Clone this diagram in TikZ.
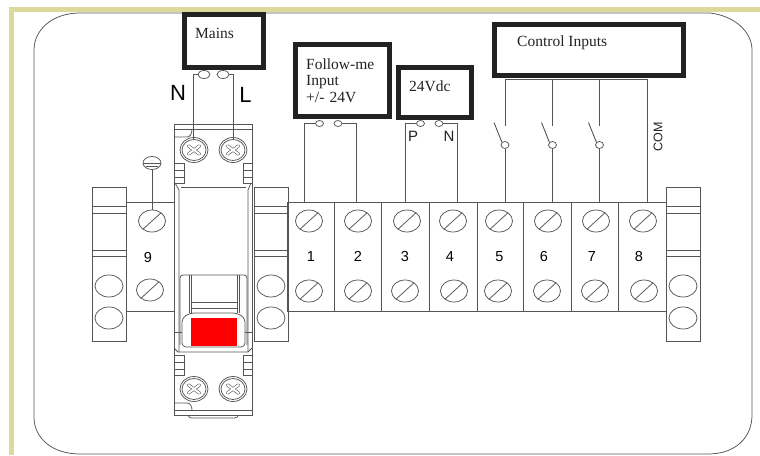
\documentclass[tikz,border=0pt]{standalone}
\usepackage{fontspec}
\setmainfont{Liberation Serif}
\setsansfont{Liberation Sans}
\usetikzlibrary{shapes.geometric,calc}
\definecolor{strip}{HTML}{DDD89B}
\definecolor{ink}{HTML}{555555}
\definecolor{boxink}{HTML}{222222}
\tikzset{
  x=1pt,y=-1pt,
  thin line/.style={draw=ink,line width=0.75pt},
  wire/.style={draw=ink,line width=0.9pt},
  labelbox/.style={draw=boxink,line width=5pt,fill=white,inner sep=0pt,rectangle},
  boxtext/.style={font=\rmfamily\fontsize{15.5}{17}\selectfont,text=boxink,inner sep=0pt,anchor=west,align=left},
  bigletter/.style={font=\sffamily\fontsize{22}{24}\selectfont,text=black,inner sep=0pt},
  smallletter/.style={font=\sffamily\fontsize{15}{17}\selectfont,text=boxink,inner sep=0pt},
  numlabel/.style={font=\sffamily\fontsize{14.5}{16}\selectfont,text=black,inner sep=0pt},
  terminal/.style={thin line,rectangle,inner sep=0pt,minimum height=108.5pt},
  lug/.style={thin line,ellipse,inner sep=0pt,fill=white},
  slotscrew/.style={thin line,ellipse,inner sep=0pt,minimum width=27pt,minimum height=22pt},
  clipring/.style={thin line,ellipse,inner sep=0pt,minimum width=28pt,minimum height=22pt},
  clipbody/.style={thin line,rectangle,inner sep=0pt,minimum width=34pt,minimum height=154pt},
}
\newcommand{\slotat}[3]{%
  \node[slotscrew] (#1) at (#2,#3) {};
  \draw[thin line] (#2-9,#3+8.2) -- (#2+9,#3-8.2);}
\newcommand{\crossat}[3]{%
  \node[thin line,ellipse,inner sep=0pt,minimum width=28pt,minimum height=25pt] (#1) at (#2,#3) {};
  \node[thin line,ellipse,inner sep=0pt,minimum width=24pt,minimum height=21pt] at (#2,#3) {};
  \draw[ink,line width=3.2pt,line cap=round] (#2-5.5,#3-4) -- (#2+5.5,#3+4) (#2-5.5,#3+4) -- (#2+5.5,#3-4);
  \draw[white,line width=2.0pt,line cap=round] (#2-5.5,#3-4) -- (#2+5.5,#3+4) (#2-5.5,#3+4) -- (#2+5.5,#3-4);}
\newcommand{\clipat}[2]{%
  \node[clipbody] (#1) at (#2,264) {};
  \draw[thin line] (#2-17,206.5) -- (#2+17,206.5) (#2-17,213) -- (#2+17,213)
    (#2-17,250) -- (#2+17,250) (#2-17,256) -- (#2+17,256);
  \node[clipring] (#1a) at (#2,286) {};
  \node[clipring] (#1b) at (#2,318) {};}
\begin{document}
\begin{tikzpicture}
\useasboundingbox (0,0) rectangle (760,455);
\fill[white] (0,0) rectangle (760,455);
\fill[strip] (9,7) rectangle (760,12);
\fill[strip] (9,7) rectangle (14,455);
% outer rounded panel
\draw[thin line] (80,13) -- (710,13) .. controls (735,16) and (752,32) .. (752,50)
  -- (752,415) .. controls (752,438) and (735,454) .. (708,454)
  -- (80,454) .. controls (52,454) and (34,438) .. (34,417)
  -- (34,50) .. controls (34,30) and (52,13) .. (80,13);

% din clips
\clipat{clipL}{109}
\clipat{clipM}{271}
\clipat{clipR}{683}

% terminal 9 and earth
\node[terminal,draw=none] (t9) at (150,257) {};
\draw[thin line] (126,202.5) -- (174,202.5) (126,311) -- (174,311);
\slotat{s9a}{152}{221}
\slotat{s9b}{150}{290}
\node[numlabel] at (148,258) {9};
\node[thin line,ellipse,inner sep=0pt,minimum width=18pt,minimum height=13pt] (earth) at (152,163) {};
\draw[thin line] (143,163) -- (161,163) (146,166) -- (158,166);
\draw[wire] (earth.south) -- (s9a.north);

% terminals 1--8
\foreach \n/\l/\r in {1/287.5/334,2/334/381,3/381/429,4/429/477,5/477/523.5,6/523.5/571,7/571/618,8/618/666}{
  \node[terminal,minimum width={(\r-\l)*1pt}] (t\n) at ({(\l+\r)/2},256.75) {};
}
\foreach \n/\a/\b in {1/309/309,2/358/358,3/407/405,4/453/454,5/499/498,6/548/547,7/596/595,8/643/644}{
  \slotat{sa\n}{\a}{221}
  \slotat{sb\n}{\b}{291}
}
\foreach \n/\x in {1/311,2/358,3/405,4/450,5/499.5,6/544,7/592,8/639}{
  \node[numlabel] at (\x,256.5) {\n};
}

% breaker
\draw[thin line] (174,124) rectangle (252,415);
\draw[thin line] (174,129) -- (252,129) (174,410) -- (252,410);
\draw[thin line] (174,137) -- (187,137) .. controls (190,137) and (192,134) .. (192,129);
\draw[thin line] (174,403) -- (187,403) .. controls (190,403) and (192,406) .. (192,410);
\draw[thin line] (188,415) .. controls (189,418) and (190,418) .. (192,418) -- (234,418) .. controls (237,418) and (238,417) .. (238,415);
\foreach \yy in {163,355}{
  \draw[thin line] (174,\yy) rectangle (184,\yy+20);
  \draw[thin line] (243,\yy) rectangle (252,\yy+20);
  \draw[thin line] (174,\yy+7) -- (184,\yy+7) (174,\yy+14) -- (184,\yy+14) (243,\yy+7) -- (252,\yy+7) (243,\yy+14) -- (252,\yy+14);
}
\draw[thin line] (175,183) -- (179,190) -- (179,352) (251,183) -- (248,190) -- (248,352);
\draw[thin line] (181,187) -- (246,187);
\draw[thin line] (174,348) -- (178,352) -- (248,352) -- (252,348);
\draw[thin line,rounded corners=3pt] (180,345) -- (180,275) -- (247,275) -- (247,345);
\draw[thin line] (189,275) -- (189,313) (191,275) -- (191,313) (237,275) -- (237,313) (239,275) -- (239,313);
\draw[thin line] (191,302) -- (237,302) (191,308) -- (237,308);
\draw[thin line,fill=white,rounded corners=4pt] (182,347) -- (182,318) -- (190,313) -- (237,313) -- (245,318) -- (245,347) -- cycle;
\draw[thin line] (174,332) -- (182,332) (245,332) -- (252,332);
\node[rectangle,fill=red,inner sep=0pt,minimum width=46.5pt,minimum height=28pt] (lever) at (213.75,332) {};
\crossat{bn}{194}{150}
\crossat{bl}{233}{150}
\crossat{bn2}{194}{389}
\crossat{bl2}{233}{389}

% label boxes
\node[labelbox,minimum width=79pt,minimum height=53pt] (mains) at (224,41) {};
\node[boxtext] (mainstxt) at (195,33) {Mains};
\node[labelbox,minimum width=94pt,minimum height=72pt] (follow) at (342.5,80.5) {};
\node[boxtext,anchor=north west,text width=82pt,font=\rmfamily\fontsize{15.5}{16.5}\selectfont] (followtxt) at (306,58.5) {Follow-me\\Input\\+/- 24V};
\node[labelbox,minimum width=73pt,minimum height=50pt] (dc) at (435,92.5) {};
\node[boxtext] (dctxt) at (409,86) {24Vdc};
\node[labelbox,minimum width=189pt,minimum height=51pt] (ctrl) at (589,50) {};
\node[boxtext] (ctrltxt) at (517,43) {Control Inputs};

% lugs
\node[lug,minimum width=12pt,minimum height=8pt] (mn) at (204,74.5) {};
\node[lug,minimum width=12pt,minimum height=8pt] (ml) at (223,74.5) {};
\node[lug,minimum width=8pt,minimum height=6pt] (fa) at (319.5,123.5) {};
\node[lug,minimum width=8pt,minimum height=6pt] (fb) at (338,123.5) {};
\node[lug,minimum width=8pt,minimum height=6pt] (pa) at (420.5,123.5) {};
\node[lug,minimum width=8pt,minimum height=6pt] (pb) at (439,123.5) {};

% connectors
\coordinate (wn) at (193.5,140);
\coordinate (wl) at (233.5,140);
\draw[wire] (mn.west) -- (mn.west -| wn) -- (wn);
\draw[wire] (ml.east) -- (ml.east -| wl) -- (wl);
\coordinate (w1) at (304.5,202.5);
\coordinate (w2) at (356.5,202.5);
\coordinate (w3) at (405.5,202.5);
\coordinate (w4) at (457.5,202.5);
\draw[wire] (fa.west) -- (fa.west -| w1) -- (w1);
\draw[wire] (fb.east) -- (fb.east -| w2) -- (w2);
\draw[wire] (pa.west) -- (pa.west -| w3) -- (w3);
\draw[wire] (pb.east) -- (pb.east -| w4) -- (w4);

\coordinate (ctl) at (505,79);
\coordinate (ctr) at (647,79);
\draw[wire] (ctl) -- (ctr) -- (647,202.5);
\foreach \k/\x/\n in {1/505/5,2/552.5/6,3/599.5/7}{
  \node[lug,minimum width=8pt,minimum height=7pt] (sw\k) at (\x,145) {};
  \draw[wire] (\x,79) -- (\x,126);
  \draw[wire] (sw\k.south) -- (\x,202.5);
  \draw[wire] (\x-11,122.5) -- (sw\k.north west);
}

% letters
\node[bigletter] at (178,93) {N};
\node[bigletter] at (245.5,95) {L};
\node[smallletter] at (413,136) {P};
\node[smallletter] at (449,136) {N};
\node[font=\sffamily\fontsize{12.5}{14}\selectfont,text=boxink,inner sep=0pt,rotate=90] at (658,137) {COM};
\end{tikzpicture}
\end{document}
